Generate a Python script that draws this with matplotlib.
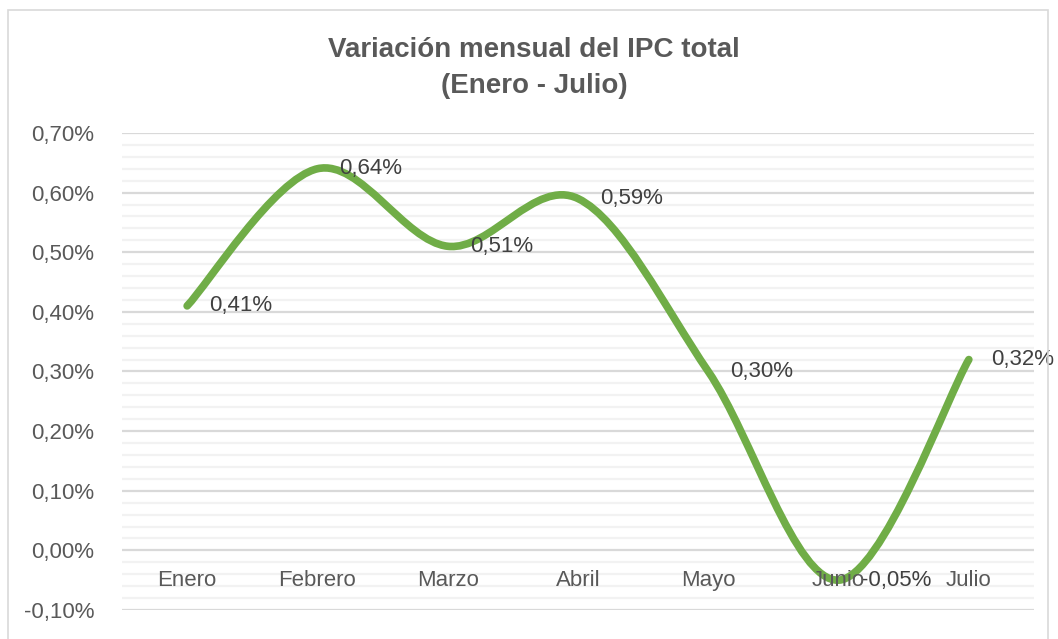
import numpy as np
import matplotlib.pyplot as plt
from matplotlib.path import Path
from matplotlib.patches import PathPatch, Rectangle
from matplotlib.ticker import MultipleLocator, FuncFormatter

meses = ['Enero', 'Febrero', 'Marzo', 'Abril', 'Mayo', 'Junio', 'Julio']
ipc = [0.41, 0.64, 0.51, 0.59, 0.30, -0.05, 0.32]

verde = '#70AD47'
gris_txt = '#595959'

plt.rcParams['font.family'] = ['Liberation Sans', 'DejaVu Sans']

fig = plt.figure(figsize=(10.58, 6.39), dpi=100)
ax = fig.add_axes([0.1153, 0.0454, 0.862, 0.7465])

# marco del grafico
fig.patches.append(Rectangle((8 / 1058, -0.05), 1040 / 1058, 1 - 10 / 639 + 0.05,
                             transform=fig.transFigure, fill=False,
                             edgecolor='#D9D9D9', lw=1.2))

# linea suavizada (bezier tipo Excel)
x = np.arange(len(ipc))
y = np.array(ipc)
pts = np.column_stack([x, y])
ext = np.vstack([pts[0], pts, pts[-1]])
verts = [tuple(pts[0])]
codes = [Path.MOVETO]
for i in range(len(pts) - 1):
    p0, p1, p2, p3 = ext[i], ext[i + 1], ext[i + 2], ext[i + 3]
    c1 = p1 + (p2 - p0) / 6
    c2 = p2 - (p3 - p1) / 6
    verts += [tuple(c1), tuple(c2), tuple(p2)]
    codes += [Path.CURVE4] * 3
ax.add_patch(PathPatch(Path(verts, codes), facecolor='none', edgecolor=verde,
                       lw=5.5, capstyle='round', joinstyle='round', zorder=3))

fmt = lambda v: f'{v:.2f}%'.replace('.', ',')
for xi, v in zip(x, ipc):
    ax.annotate(fmt(v), (xi, v), xytext=(22, 0), textcoords='offset pixels',
                ha='left', va='center', fontsize=16, color='#404040', zorder=5)

ax.set_xlim(-0.5, len(ipc) - 0.5)
ax.set_ylim(-0.10, 0.70)
ax.yaxis.set_major_locator(MultipleLocator(0.10))
ax.yaxis.set_minor_locator(MultipleLocator(0.02))
ax.yaxis.set_major_formatter(FuncFormatter(lambda v, p: fmt(v)))
ax.grid(axis='y', which='major', color='#D9D9D9', lw=1.6, zorder=0)
ax.grid(axis='y', which='minor', color='#F2F2F2', lw=1.6, zorder=0)
ax.set_axisbelow(True)

ax.set_xticks(x)
ax.set_xticklabels(meses)
ax.spines['bottom'].set_position(('data', 0))
for s in ax.spines.values():
    s.set_visible(False)
ax.tick_params(axis='x', length=0, pad=14, labelsize=16, labelcolor=gris_txt)
ax.tick_params(axis='y', which='both', length=0, pad=20, labelsize=16, labelcolor=gris_txt)
ax.xaxis.set_zorder(6)

fig.text(0.505, 0.894, 'Variación mensual del IPC total\n(Enero - Julio)',
         ha='center', va='center', fontsize=20, fontweight='bold', color=gris_txt,
         linespacing=1.5)

fig.savefig('out.png', dpi=100)
